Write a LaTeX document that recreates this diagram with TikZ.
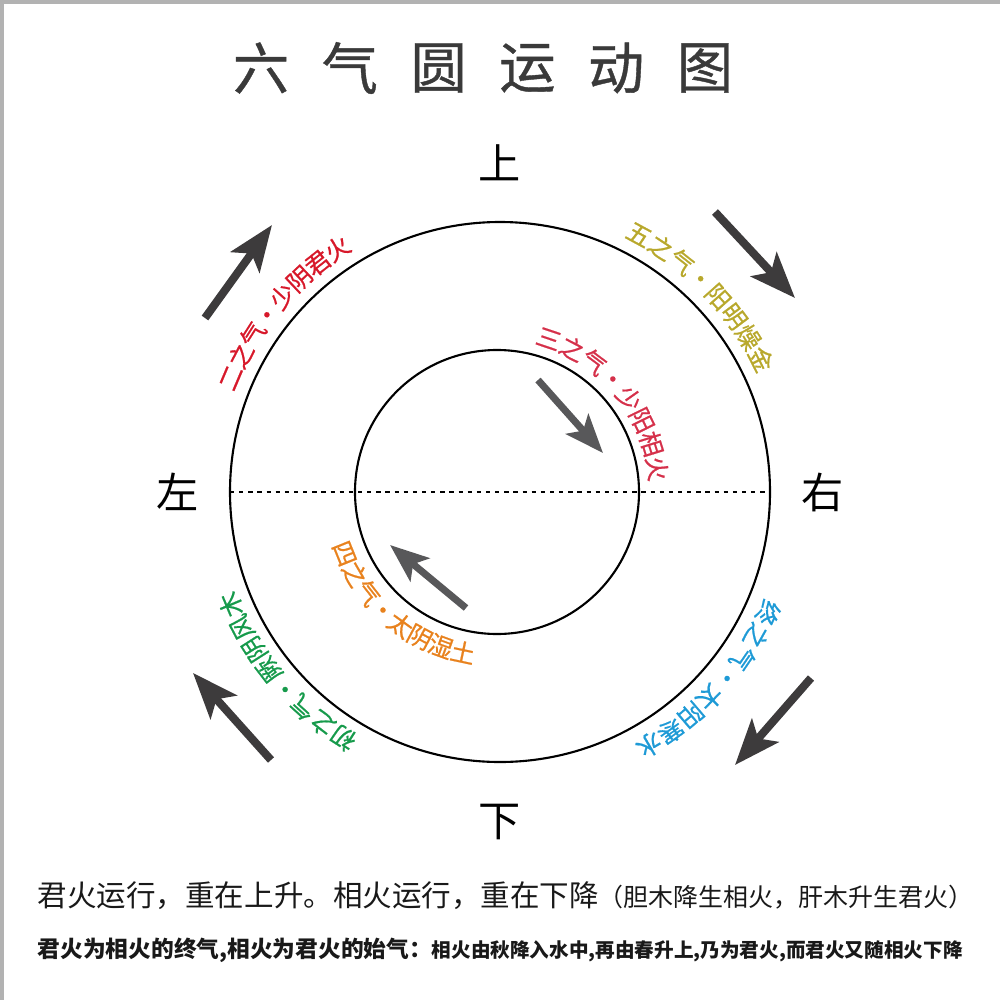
\documentclass[tikz,border=0pt]{standalone}
\usepackage{fontspec}
\newfontfamily\cjk{Noto Sans CJK SC}
\newfontfamily\cjkthick[FakeBold=0.7]{Noto Sans CJK SC}
\usetikzlibrary{arrows.meta}

\definecolor{arrowgray}{HTML}{3D3B3C}
\definecolor{innergray}{HTML}{58585A}
\definecolor{titlegray}{HTML}{3A3A3A}
\definecolor{qired}{HTML}{D7182A}
\definecolor{qicrimson}{HTML}{D5304A}
\definecolor{qiolive}{HTML}{B8A82C}
\definecolor{qiorange}{HTML}{E8821E}
\definecolor{qigreen}{HTML}{169A4B}
\definecolor{qiblue}{HTML}{1E9AD6}

\begin{document}
\begin{tikzpicture}[x=0.01cm,y=0.01cm,
  every node/.style={inner sep=0pt,font=\cjk},
  qichar/.style={font=\cjkthick\fontsize{7}{8}\selectfont,text height=6.2pt,text depth=0.8pt},
  bigarrow/.style={arrowgray,line width=2.3pt,-{Stealth[length=13pt,width=10pt,inset=3pt]}},
  smallarrow/.style={innergray,line width=2pt,-{Stealth[length=11pt,width=8.5pt,inset=2.5pt]}}]
\useasboundingbox (0,0) rectangle (1000,-1000);
\draw[gray!60,line width=1.5pt] (1,-1000) -- (1,-1) -- (1000,-1);

\foreach \c [count=\i] in {六,气,圆,运,动,图}
  \node[titlegray,font=\cjkthick\fontsize{16}{16}\selectfont] (title\i) at ({261+88.8*(\i-1)},-68) {\c};

\node[font=\cjk\fontsize{12}{12}\selectfont] (up) at (500,-163) {上};
\node[font=\cjk\fontsize{12}{12}\selectfont] (down) at (500,-822) {下};
\node[font=\cjk\fontsize{12}{12}\selectfont] (left) at (178,-492) {左};
\node[font=\cjk\fontsize{12}{12}\selectfont] (right) at (823,-492) {右};

% outer circle
\begin{scope}[shift={(500,-492)}]
\coordinate (O) at (0,0);
\draw[line width=0.6pt] (O) circle (270);
\coordinate (L) at (-270,0);
\coordinate (R) at (270,0);
\draw[line width=0.5pt,dash pattern=on 1.2pt off 1.4pt] (L) -- (R);
\foreach \c [count=\i] in {二,之,气,・,少,阴,君,火}
  \node[qichar,qired,rotate={157-4.75*(\i-1)-90}] (two\i) at ({157-4.75*(\i-1)}:293) {\c};
\foreach \c [count=\i] in {五,之,气,・,阳,明,燥,金}
  \node[qichar,qiolive,rotate={61.6-4.95*(\i-1)-90}] (five\i) at ({61.6-4.95*(\i-1)}:293) {\c};
\foreach \c [count=\i] in {初,之,气,・,厥,阴,风,木}
  \node[qichar,qigreen,rotate={237.5-4.97*(\i-1)-90}] (one\i) at ({237.5-4.97*(\i-1)}:292) {\c};
\foreach \c [count=\i] in {终,之,气,・,太,阳,寒,水}
  \node[qichar,qiblue,rotate={-24.3-5.03*(\i-1)-90}] (six\i) at ({-24.3-5.03*(\i-1)}:294) {\c};
\end{scope}

% inner circle
\begin{scope}[shift={(497,-492)}]
\coordinate (I) at (0,0);
\draw[line width=0.6pt] (I) circle (142);
\foreach \c [count=\i] in {三,之,气,・,少,阳,相,火}
  \node[qichar,qicrimson,rotate={71.3-9*(\i-1)-90}] (three\i) at ({71.3-9*(\i-1)}:162) {\c};
\foreach \c [count=\i] in {四,之,气,・,太,阴,湿,土}
  \node[qichar,qiorange,rotate={202+8*(\i-1)+90}] (four\i) at ({202+8*(\i-1)}:164) {\c};
\end{scope}

% arrows
\coordinate (ul0) at (205,-318);
\coordinate (ul1) at (272,-225);
\coordinate (ur0) at (715,-212);
\coordinate (ur1) at (795,-298);
\coordinate (lr0) at (811,-678);
\coordinate (lr1) at (735,-765);
\coordinate (ll0) at (271,-760);
\coordinate (ll1) at (193,-673);
\coordinate (iu0) at (538,-380);
\coordinate (iu1) at (603,-453);
\coordinate (il0) at (466,-608);
\coordinate (il1) at (390,-545);
\draw[bigarrow] (ul0) -- (ul1);
\draw[bigarrow] (ur0) -- (ur1);
\draw[bigarrow] (lr0) -- (lr1);
\draw[bigarrow] (ll0) -- (ll1);
\draw[smallarrow] (iu0) -- (iu1);
\draw[smallarrow] (il0) -- (il1);

\node[anchor=base west,text=black!90] (line1) at (37,-906)
  {\fontsize{8.4}{9}\selectfont 君火运行，重在上升。相火运行，重在下降\fontsize{7.1}{8}\selectfont （胆木降生相火，肝木升生君火）};
\node[anchor=base west,text=black!90] (line2) at (37,-957)
  {\bfseries\fontsize{6.46}{7}\selectfont 君火为相火的终气,相火为君火的始气：\fontsize{5.58}{6}\selectfont 相火由秋降入水中,再由春升上,乃为君火,而君火又随相火下降};
\end{tikzpicture}
\end{document}
